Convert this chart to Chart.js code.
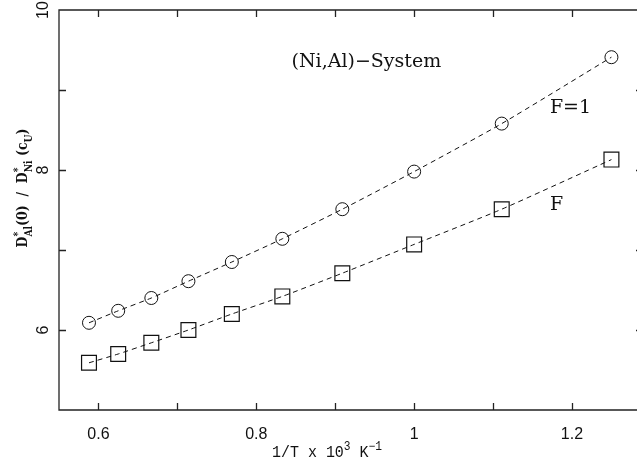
<!DOCTYPE html>
<html>
<head>
<meta charset="utf-8">
<script src="https://cdn.jsdelivr.net/npm/chart.js@4.4.1/dist/chart.umd.min.js"></script>
<style>
  html, body { margin: 0; padding: 0; background: #fff; overflow: hidden; }
  #wrap { width: 637px; height: 474px; }
</style>
</head>
<body>
<div id="wrap"><canvas id="grafico"></canvas></div>
<script>
// 1/T x 10^3 (K^-1), T = 1700 ... 800 K
const invT = [0.588, 0.625, 0.667, 0.714, 0.769, 0.833, 0.909, 1.0, 1.111, 1.25];
const razaoF1 = [6.09, 6.24, 6.40, 6.61, 6.85, 7.14, 7.51, 7.98, 8.58, 9.41];
const razaoF = [5.59, 5.70, 5.84, 6.00, 6.20, 6.42, 6.71, 7.07, 7.51, 8.13];

const xTickLabels = [0.6, 0.8, 1.0, 1.2];
const xTickMarks = [0.6, 0.7, 0.8, 0.9, 1.0, 1.1, 1.2];
const yTickLabels = [6, 8, 10];
const yTickMarks = [6, 7, 8, 9];

const anotacoes = [
    { texto: "(Ni,Al)\u2212System", x: 0.9395, y: 9.35, align: "center" },
    { texto: "F=1", x: 1.172, y: 8.77, align: "left" },
    { texto: "F", x: 1.172, y: 7.56, align: "left" }
];

const tituloX = [
    { t: "1/T x 10" }, { t: "3", v: "sup" }, { t: " K" }, { t: "\u22121", v: "sup" }
];
const tituloY = [
    { t: "D" }, { t: "*", v: "sup", fica: true }, { t: "Al", v: "sub" },
    { t: "(0)  /  D" }, { t: "*", v: "sup", fica: true }, { t: "Ni", v: "sub" },
    { t: " (c" }, { t: "U", v: "sub" }, { t: ")" }
];

// area do grafico (o lado direito fica fora da janela, como no original)
const area = { left: 59, top: 10, right: 643, bottom: 410 };

function escreveRuns(ctx, runs, tam, familia, peso, largura) {
    const fonte = r => peso + " " + (r.v ? Math.round(tam * 0.72) : tam) + "px " + familia;
    let total = 0;
    runs.forEach(r => {
        ctx.font = fonte(r);
        if (!r.fica) total += ctx.measureText(r.t).width;
    });
    if (largura) ctx.scale(largura / total, 1);
    let px = -total / 2;
    runs.forEach(r => {
        ctx.font = fonte(r);
        const dy = r.v === "sup" ? -tam * 0.42 : r.v === "sub" ? tam * 0.32 : 0;
        ctx.fillText(r.t, px, dy);
        if (!r.fica) px += ctx.measureText(r.t).width;
    });
}

const fixaArea = {
    id: "fixaArea",
    afterLayout(chart) {
        Object.assign(chart.chartArea, area, {
            width: area.right - area.left,
            height: area.bottom - area.top
        });
        const { x, y } = chart.scales;
        x.left = area.left; x.right = area.right; x.width = area.right - area.left;
        y.top = area.top; y.bottom = area.bottom; y.height = area.bottom - area.top;
        x.configure();
        y.configure();
    }
};

const moldura = {
    id: "moldura",
    afterDraw(chart) {
        const { ctx, chartArea: a, scales: { x, y } } = chart;
        ctx.save();
        ctx.strokeStyle = "#222";
        ctx.lineWidth = 1.3;
        ctx.beginPath();
        ctx.rect(a.left, a.top, a.right - a.left, a.bottom - a.top);
        xTickMarks.forEach(v => {
            const p = Math.round(x.getPixelForValue(v)) + 0.5;
            ctx.moveTo(p, a.bottom); ctx.lineTo(p, a.bottom - 7);
            ctx.moveTo(p, a.top); ctx.lineTo(p, a.top + 7);
        });
        yTickMarks.forEach(v => {
            const p = Math.round(y.getPixelForValue(v)) + 0.5;
            ctx.moveTo(a.left, p); ctx.lineTo(a.left + 7, p);
            ctx.moveTo(a.right, p); ctx.lineTo(a.right - 7, p);
        });
        ctx.stroke();

        ctx.fillStyle = "#111";
        ctx.textBaseline = "middle";

        // rotulos do eixo y (girados)
        ctx.font = "16px 'Liberation Sans'";
        ctx.textAlign = "center";
        yTickLabels.forEach(v => {
            ctx.save();
            ctx.translate(44, y.getPixelForValue(v));
            ctx.rotate(-Math.PI / 2);
            ctx.fillText(String(v), 0, 0);
            ctx.restore();
        });

        // titulos dos eixos
        ctx.textAlign = "left";
        ctx.textBaseline = "alphabetic";
        ctx.save();
        ctx.translate(327, 457);
        escreveRuns(ctx, tituloX, 16, "'Liberation Mono'", "normal", 110);
        ctx.restore();
        ctx.save();
        ctx.translate(27, 188);
        ctx.rotate(-Math.PI / 2);
        escreveRuns(ctx, tituloY, 15, "'DejaVu Serif'", "bold", 119);
        ctx.restore();

        // anotacoes
        ctx.font = "19px 'DejaVu Serif'";
        ctx.textBaseline = "middle";
        anotacoes.forEach(n => {
            ctx.textAlign = n.align;
            ctx.fillText(n.texto, x.getPixelForValue(n.x), y.getPixelForValue(n.y));
        });
        ctx.restore();
    }
};

const ctx = document.getElementById("grafico").getContext("2d");
new Chart(ctx, {
    type: "line",
    data: {
        datasets: [
            {
                label: "F=1",
                data: invT.map((v, i) => ({ x: v, y: razaoF1[i] })),
                borderColor: "#111",
                borderWidth: 1,
                borderDash: [5, 4],
                tension: 0.2,
                pointStyle: "circle",
                pointRadius: 6.5,
                pointBorderWidth: 1,
                pointBorderColor: "#111",
                pointBackgroundColor: "rgba(0,0,0,0)"
            },
            {
                label: "F",
                data: invT.map((v, i) => ({ x: v, y: razaoF[i] })),
                borderColor: "#111",
                borderWidth: 1,
                borderDash: [5, 4],
                tension: 0.2,
                pointStyle: "rect",
                pointRadius: 10.5,
                pointBorderWidth: 1.2,
                pointBorderColor: "#111",
                pointBackgroundColor: "rgba(0,0,0,0)"
            }
        ]
    },
    options: {
        responsive: true,
        maintainAspectRatio: false,
        animation: false,
        layout: { padding: { top: 10, right: 0, bottom: 0, left: 0 } },
        plugins: { legend: { display: false }, tooltip: { enabled: false } },
        scales: {
            x: {
                type: "linear",
                min: 0.55,
                max: 1.29,
                grid: { display: false },
                border: { display: false },
                afterBuildTicks: s => { s.ticks = xTickLabels.map(v => ({ value: v })); },
                afterFit: s => { s.height = 64; },
                ticks: {
                    padding: 7,
                    color: "#111",
                    font: { family: "'Liberation Sans'", size: 16 },
                    callback: v => String(+v.toFixed(1))
                }
            },
            y: {
                type: "linear",
                min: 5,
                max: 10,
                grid: { display: false },
                border: { display: false },
                afterFit: s => { s.width = 59; },
                ticks: { display: false }
            }
        }
    },
    plugins: [fixaArea, moldura]
});
</script>
</body>
</html>
